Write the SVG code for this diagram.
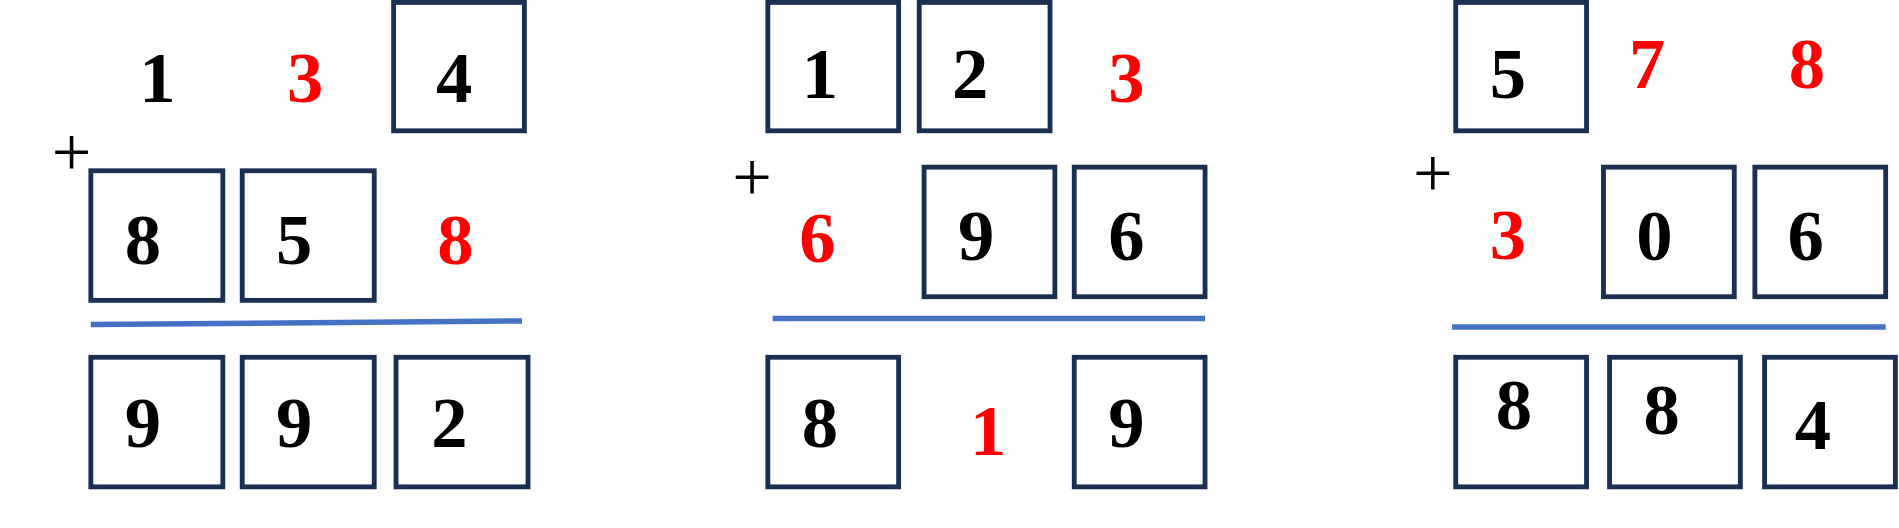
<svg xmlns="http://www.w3.org/2000/svg" width="1899" height="528" viewBox="0 0 1899 528">
<style>
.b{fill:none;stroke:#1b2f52;stroke-width:4}
.d{font-family:"Liberation Serif",serif;font-weight:bold;font-size:60px;text-anchor:middle}
.r{fill:#ff0000}
.p{font-family:"Liberation Serif",serif;font-size:58px;text-anchor:middle}
.l{stroke:#4472c4;stroke-width:4.5}
</style>
<rect width="1899" height="528" fill="#fff"/>
<g transform="scale(1.2111)">
<g id="p1">
<text class="d" x="130" y="84">1</text>
<text class="d r" x="252" y="84">3</text>
<rect class="b" x="325" y="2" width="108" height="106"/><text class="d" x="375" y="84">4</text>
<text class="p" x="59" y="145">+</text>
<rect class="b" x="75" y="141" width="109" height="107"/><text class="d" x="118" y="218">8</text>
<rect class="b" x="200" y="141" width="109" height="107"/><text class="d" x="243" y="218">5</text>
<text class="d r" x="376" y="218">8</text>
<rect class="b" x="75" y="295" width="109" height="107"/><text class="d" x="118" y="369">9</text>
<rect class="b" x="200" y="295" width="109" height="107"/><text class="d" x="243" y="369">9</text>
<rect class="b" x="327" y="295" width="109" height="107"/><text class="d" x="371" y="369">2</text>
</g>
<g id="p2">
<rect class="b" x="634" y="2" width="108" height="106"/><text class="d" x="677" y="81">1</text>
<rect class="b" x="759" y="2" width="108" height="106"/><text class="d" x="801" y="81">2</text>
<text class="d r" x="930" y="84">3</text>
<text class="p" x="621" y="166">+</text>
<text class="d r" x="675" y="216">6</text>
<rect class="b" x="763" y="138" width="108" height="107"/><text class="d" x="806" y="215">9</text>
<rect class="b" x="887" y="138" width="108" height="107"/><text class="d" x="930" y="215">6</text>
<rect class="b" x="634" y="295" width="108" height="107"/><text class="d" x="677" y="369">8</text>
<text class="d r" x="816" y="376">1</text>
<rect class="b" x="887" y="295" width="108" height="107"/><text class="d" x="930" y="369">9</text>
</g>
<g id="p3">
<rect class="b" x="1202" y="2" width="108" height="106"/><text class="d" x="1245" y="81">5</text>
<text class="d r" x="1360" y="73">7</text>
<text class="d r" x="1492" y="73">8</text>
<text class="p" x="1183" y="163">+</text>
<text class="d r" x="1245" y="214">3</text>
<rect class="b" x="1324" y="138" width="108" height="107"/><text class="d" x="1366" y="215">0</text>
<rect class="b" x="1449" y="138" width="108" height="107"/><text class="d" x="1491" y="215">6</text>
<rect class="b" x="1202" y="295" width="108" height="107"/><text class="d" x="1250" y="354">8</text>
<rect class="b" x="1329" y="295" width="108" height="107"/><text class="d" x="1372" y="358">8</text>
<rect class="b" x="1457" y="295" width="108" height="107"/><text class="d" x="1497" y="371">4</text>
</g>
<g id="connectors">
<line class="l" x1="75" y1="268" x2="431" y2="265"/>
<line class="l" x1="638" y1="263" x2="995" y2="263"/>
<line class="l" x1="1199" y1="270" x2="1557" y2="270"/>
</g>
</g>
</svg>
